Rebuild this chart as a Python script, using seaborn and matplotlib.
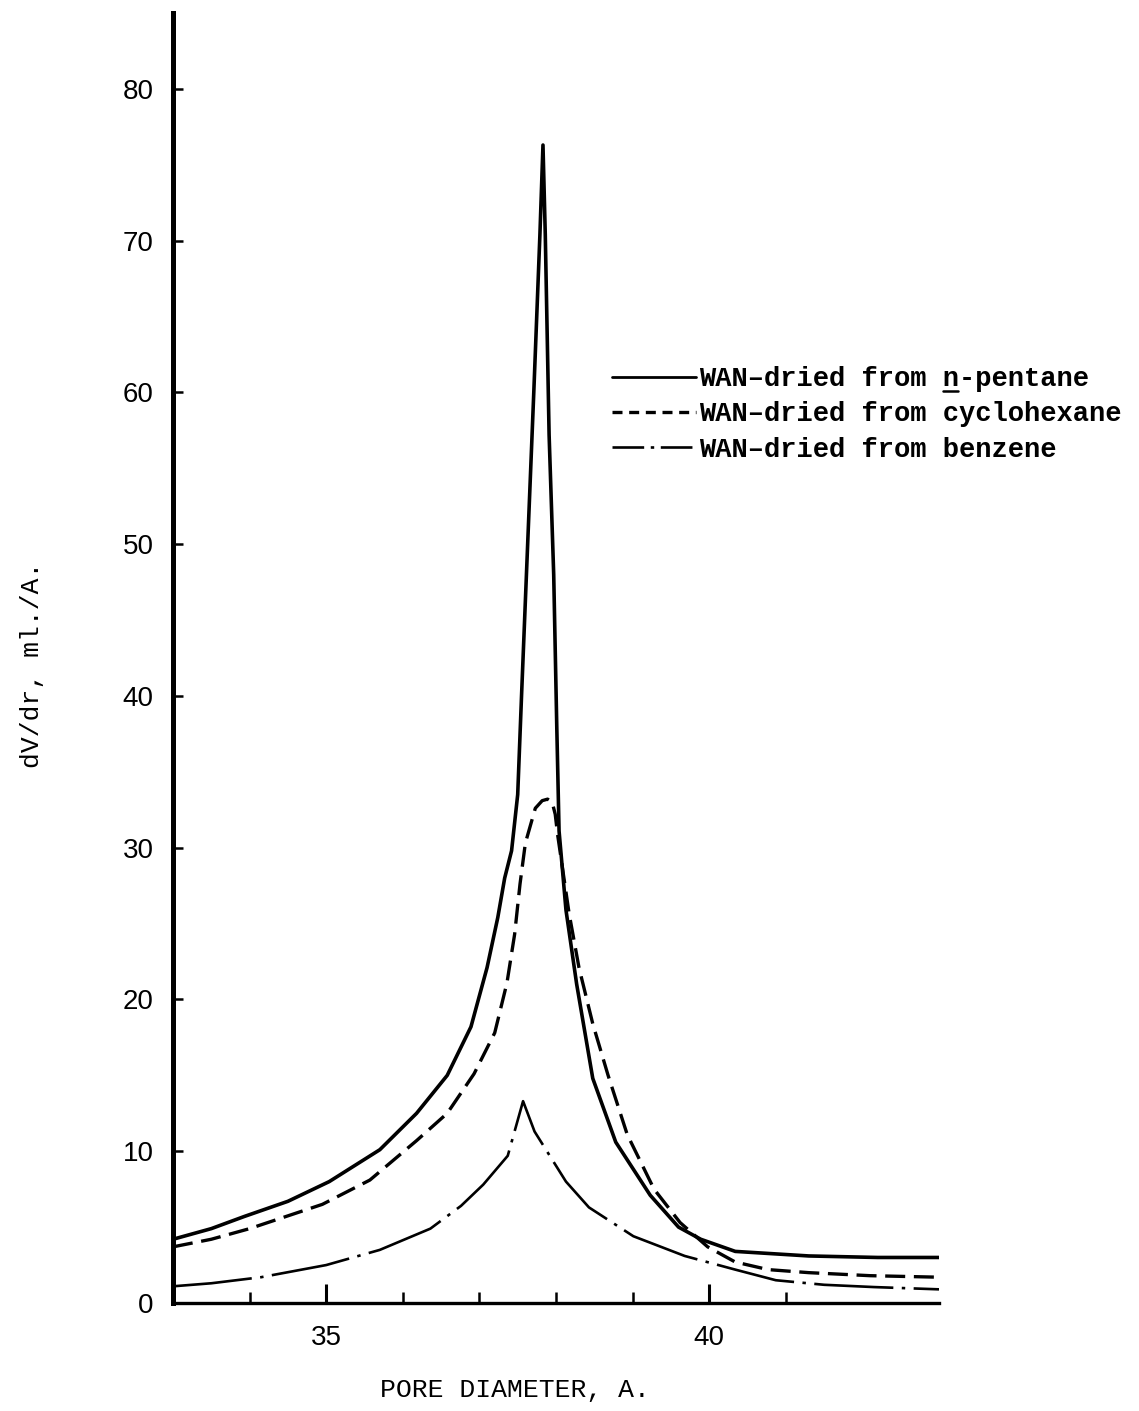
import pandas as pd
import seaborn as sns
import matplotlib.pyplot as plt
from matplotlib.lines import Line2D

# curves: pore diameter (A) vs dV/dr
pentane_x = [33.0, 33.5, 33.93, 34.5, 35.04, 35.7, 36.18, 36.58, 36.89, 37.1, 37.24, 37.33,
             37.42, 37.5, 37.55, 37.63, 37.71, 37.79, 37.83, 37.86, 37.91, 37.97, 38.01, 38.04,
             38.13, 38.27, 38.48, 38.78, 39.23, 39.6, 39.89, 40.34, 41.3, 42.2, 43.0]
pentane_y = [4.2, 4.9, 5.7, 6.7, 8.0, 10.1, 12.5, 15.0, 18.2, 22.1, 25.4, 28.0,
             29.8, 33.5, 40.0, 50.0, 60.0, 70.4, 76.3, 70.4, 57.2, 48.0, 38.0, 31.1,
             25.9, 21.0, 14.8, 10.6, 7.1, 5.0, 4.2, 3.4, 3.1, 3.0, 3.0]

cyclohexane_x = [33.0, 33.5, 34.0, 34.95, 35.57, 36.18, 36.58, 36.93, 37.2, 37.36, 37.46, 37.53,
                 37.6, 37.73, 37.82, 37.89, 37.95, 37.99, 38.02, 38.17, 38.3, 38.48, 38.68,
                 38.93, 39.28, 39.62, 39.98, 40.34, 40.77, 41.3, 42.1, 43.0]
cyclohexane_y = [3.7, 4.2, 4.9, 6.5, 8.1, 10.7, 12.5, 15.1, 17.8, 21.1, 24.3, 27.6,
                 30.3, 32.6, 33.1, 33.2, 33.0, 32.2, 30.9, 25.7, 22.1, 18.4, 15.0,
                 11.1, 7.5, 5.3, 3.7, 2.7, 2.2, 2.0, 1.8, 1.7]

benzene_x = [33.0, 33.5, 34.15, 35.0, 35.7, 36.36, 36.76, 37.05, 37.37, 37.57, 37.72, 38.13,
             38.43, 39.01, 39.68, 40.34, 40.87, 41.5, 42.15, 43.0]
benzene_y = [1.1, 1.3, 1.7, 2.5, 3.5, 4.9, 6.4, 7.8, 9.7, 13.3, 11.3, 8.0,
             6.3, 4.4, 3.1, 2.2, 1.5, 1.2, 1.05, 0.9]

labels = ["WAN–dried from n-pentane",
          "WAN–dried from cyclohexane",
          "WAN–dried from benzene"]

x_major = [35, 40]
x_minor = [34, 36, 37, 38, 39, 41]
y_ticks = [0, 10, 20, 30, 40, 50, 60, 70, 80]

sns.set_theme(style="white")
plt.rcParams['font.family'] = ['Liberation Mono', 'DejaVu Sans Mono']
for k in ['text.color', 'axes.labelcolor', 'xtick.color', 'ytick.color']:
    plt.rcParams[k] = 'black'

df_p = pd.DataFrame({'d': pentane_x, 'v': pentane_y})
df_c = pd.DataFrame({'d': cyclohexane_x, 'v': cyclohexane_y})
df_b = pd.DataFrame({'d': benzene_x, 'v': benzene_y})

fig = plt.figure(figsize=(11.39, 14.11), dpi=100)
ax = fig.add_axes([173 / 1139, 1 - 1303 / 1411, (939 - 173) / 1139, (1303 - 13) / 1411])

sns.lineplot(data=df_p, x='d', y='v', ax=ax, color='black', lw=2.6,
             label=labels[0], estimator=None)
sns.lineplot(data=df_c, x='d', y='v', ax=ax, color='black', lw=2.4,
             linestyle=(0, (6, 2.6)), label=labels[1], estimator=None)
sns.lineplot(data=df_b, x='d', y='v', ax=ax, color='black', lw=1.9,
             linestyle=(0, (30, 3.2, 1.3, 3.2)), label=labels[2], estimator=None)

ax.set_xlim(33, 43)
ax.set_ylim(0, 85)

for s in ['top', 'right']:
    ax.spines[s].set_visible(False)
ax.spines['left'].set_linewidth(3.6)
ax.spines['bottom'].set_linewidth(2.4)
ax.spines['left'].set_color('black')
ax.spines['bottom'].set_color('black')

ax.set_xticks(x_major)
ax.set_xticks(x_minor, minor=True)
ax.set_yticks(y_ticks)
ax.tick_params(axis='x', which='major', direction='in', length=14, width=2.2,
               pad=16, labelsize=20, color='black', bottom=True)
ax.tick_params(axis='x', which='minor', direction='in', length=8, width=1.8,
               color='black', bottom=True)
ax.tick_params(axis='y', direction='in', length=7, width=1.8, pad=14,
               labelsize=20, color='black', left=True)
for t in ax.get_xticklabels() + ax.get_yticklabels():
    t.set_family('Liberation Sans')

ax.set_xlabel("PORE DIAMETER, A.", fontsize=19)
ax.set_ylabel("dV/dr, ml./A.", fontsize=19)
ax.xaxis.set_label_coords((515 - 173) / 766, -0.058)
ax.yaxis.set_label_coords((44 - 173) / 766, 0.495)

leg = ax.legend(loc='upper left', bbox_to_anchor=(612 / 1139, 1 - 366 / 1411),
                bbox_transform=fig.transFigure, frameon=False,
                prop={'family': 'Liberation Mono', 'size': 19.5, 'weight': 'bold'},
                handlelength=3.1, handletextpad=0.1, labelspacing=0.35,
                borderpad=0, borderaxespad=0)
leg_lines = leg.get_lines()
leg_lines[0].set_linewidth(2.0)
leg_lines[1].set_linestyle((0, (3, 2)))
leg_lines[2].set_linestyle((0, (12, 2.5, 1.3, 2.5)))

# underline the "n" of n-pentane (monospace, so one char = width / len)
fig.canvas.draw()
txt = leg.get_texts()[0]
bb = txt.get_window_extent()
cw = bb.width / len(labels[0])
i = labels[0].index("n-")
W, H = fig.bbox.width, fig.bbox.height
uy = (bb.y0 + 1) / H
fig.add_artist(Line2D([(bb.x0 + i * cw + 1) / W, (bb.x0 + (i + 1) * cw - 1) / W], [uy, uy],
                      transform=fig.transFigure, color='black', lw=1.8))

fig.savefig("out.png", dpi=100, facecolor='white')
